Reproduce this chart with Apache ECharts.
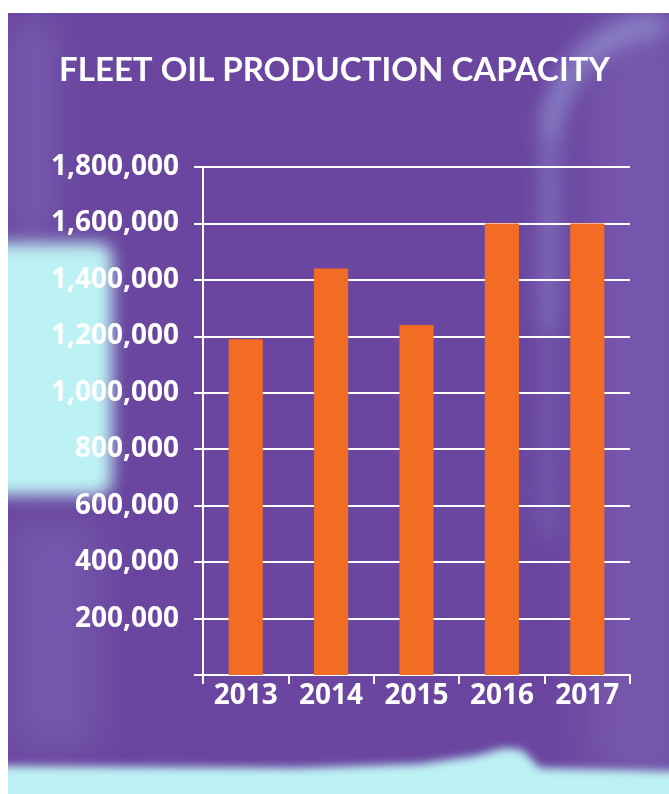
<!DOCTYPE html>
<html>
<head>
<meta charset="utf-8">
<style>
  html, body { margin: 0; padding: 0; background: #fff; }
  #chart { width: 669px; height: 794px; }
</style>
<script src="https://cdn.jsdelivr.net/npm/echarts@6/dist/echarts.min.js"></script>
</head>
<body>
<div id="chart"></div>
<script>
var years = ['2013', '2014', '2015', '2016', '2017'];
var capacity = [1190000, 1440000, 1240000, 1600000, 1600000];
var yMax = 1800000;
var yStep = 200000;

var purple = '#6a46a0';
var cyan = '#bdf2f4';
var orange = '#f26c24';
var labelFont = 'Open Sans';
var titleFont = 'Lato';

var myChart = echarts.init(document.getElementById('chart'));

// blurred photo shapes behind the chart (only the offset shadow shows)
function blurred(shape, type, color, shadow, blur, z) {
    return {
        type: type,
        shape: shape,
        x: -2000,
        silent: true,
        z: z,
        style: {
            fill: color,
            shadowColor: shadow,
            shadowBlur: blur,
            shadowOffsetX: 2000
        }
    };
}
function blurredStroke(shape, type, shadow, width, blur, z) {
    return {
        type: type,
        shape: shape,
        x: -2000,
        silent: true,
        z: z,
        style: {
            fill: null,
            stroke: '#000',
            lineWidth: width,
            shadowColor: shadow,
            shadowBlur: blur,
            shadowOffsetX: 2000
        }
    };
}

var background = [
    {
        type: 'rect', silent: true, z: -20,
        shape: {x: 8, y: 13, width: 661, height: 781},
        style: {fill: purple}
    },
    blurred({x: 590, y: 13, width: 100, height: 781}, 'rect', '#000', 'rgba(125,95,178,0.7)', 50, -19),
    blurred({x: 8, y: 20, width: 50, height: 220}, 'rect', '#000', 'rgba(130,105,185,0.5)', 30, -19),
    blurred({x: 8, y: 520, width: 90, height: 230}, 'rect', '#000', 'rgba(130,105,185,0.5)', 40, -19),
    blurredStroke({cx: 665, cy: 140, r: 115, startAngle: Math.PI, endAngle: Math.PI * 1.5}, 'arc', 'rgba(160,175,228,0.6)', 20, 20, -18),
    blurredStroke({x1: 550, y1: 140, x2: 548, y2: 330}, 'line', 'rgba(160,175,228,0.4)', 18, 20, -18),
    blurredStroke({x1: 548, y1: 330, x2: 546, y2: 540}, 'line', 'rgba(160,175,228,0.18)', 18, 20, -18),
    blurred({x: -20, y: 243, width: 132, height: 252, r: 14}, 'rect', '#000', cyan, 16, -17),
    blurred({points: [[0, 766], [300, 768], [420, 764], [475, 756], [505, 748], [522, 750], [540, 768], [700, 772], [700, 830], [0, 830]]}, 'polygon', '#000', cyan, 8, -17),
    // white page margins
    {type: 'rect', silent: true, z: -10, shape: {x: 0, y: 0, width: 669, height: 13}, style: {fill: '#fff'}},
    {type: 'rect', silent: true, z: -10, shape: {x: 0, y: 0, width: 8, height: 794}, style: {fill: '#fff'}}
];

var option = {
    backgroundColor: '#fff',
    animation: false,
    graphic: {elements: background},
    title: {
        text: 'FLEET OIL PRODUCTION CAPACITY',
        left: 'center',
        top: 49,
        textStyle: {color: '#fff', fontFamily: titleFont, fontWeight: 'bold', fontSize: 33}
    },
    grid: {left: 203, right: 39, top: 167, bottom: 119},
    xAxis: {
        type: 'category',
        data: years,
        axisLine: {lineStyle: {color: '#fff', width: 2}},
        axisTick: {show: true, length: 9, lineStyle: {color: '#fff', width: 2}},
        axisLabel: {color: '#fff', fontFamily: labelFont, fontWeight: 'bold', fontSize: 28, margin: 7}
    },
    yAxis: {
        type: 'value',
        min: 0,
        max: yMax,
        interval: yStep,
        axisLine: {show: true, lineStyle: {color: '#fff', width: 2}},
        axisTick: {show: true, length: 9, lineStyle: {color: '#fff', width: 2}},
        splitLine: {lineStyle: {color: '#fff', width: 2}},
        axisLabel: {
            color: '#fff', fontFamily: labelFont, fontWeight: 'bold', fontSize: 28, margin: 24,
            formatter: function (v) { return v === 0 ? '' : v.toLocaleString('en-US'); }
        }
    },
    series: [{
        type: 'bar',
        data: capacity,
        barWidth: '40%',
        itemStyle: {color: orange}
    }]
};
myChart.setOption(option);
</script>
</body>
</html>
